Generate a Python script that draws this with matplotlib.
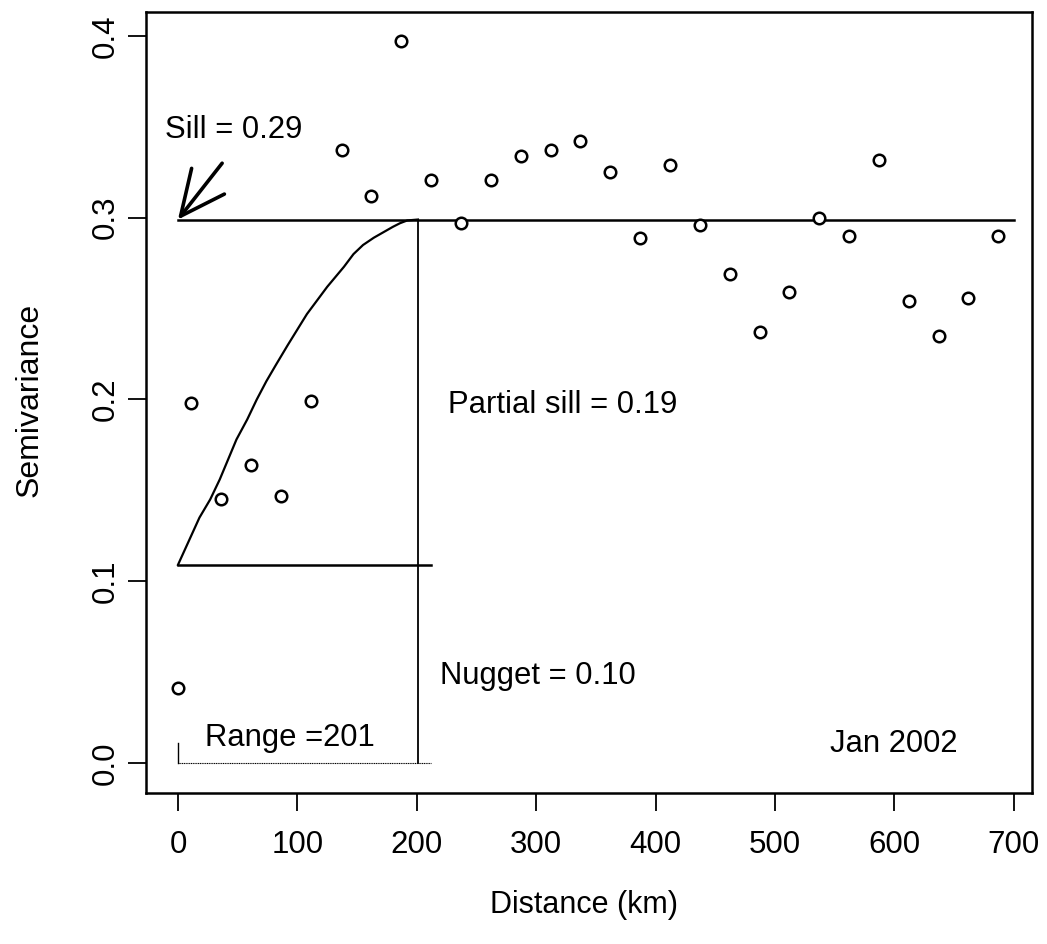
import numpy as np
import matplotlib.pyplot as plt

plt.rcParams['font.family'] = ['Liberation Sans', 'DejaVu Sans']

# empirical semivariogram points
dist = [0, 11, 36, 61, 86, 111, 137, 162, 187, 212, 237, 262, 287, 312, 337,
        362, 387, 412, 437, 462, 487, 512, 537, 562, 587, 612, 637, 662, 687]
semiv = [0.041, 0.198, 0.145, 0.164, 0.147, 0.199, 0.337, 0.312, 0.397, 0.321,
         0.297, 0.321, 0.334, 0.337, 0.342, 0.325, 0.289, 0.329, 0.296, 0.269,
         0.237, 0.259, 0.300, 0.290, 0.332, 0.254, 0.235, 0.256, 0.290]

# fitted model curve
model_x = [0, 9, 18, 27, 35, 42, 49, 58, 66, 74, 82, 92, 108, 125, 139, 147, 155, 164, 172, 180, 186, 192, 201]
model_y = [0.109, 0.122, 0.135, 0.145, 0.156, 0.167, 0.178, 0.189, 0.200, 0.210,
           0.219, 0.230, 0.247, 0.262, 0.273, 0.280, 0.285, 0.289, 0.292, 0.295,
           0.297, 0.2985, 0.299]

nugget = 0.109
sill = 0.299
rng = 201

fig = plt.figure(figsize=(10.47, 9.44), dpi=100)
ax = fig.add_axes([0.1394, 0.160, 0.8463, 0.8273])

ax.plot(dist, semiv, 'o', mfc='white', mec='black', ms=8.3, mew=1.8, zorder=5)
ax.plot(model_x, model_y, '-', color='black', lw=1.6)

# sill, nugget, range lines
ax.plot([0, 700], [sill, sill], color='black', lw=1.8)
ax.plot([0, 212], [nugget, nugget], color='black', lw=1.8)
ax.plot([rng, rng], [0, sill], color='black', lw=1.3)
ax.plot([0, 212], [0, 0], color='black', lw=0.8, ls=(0, (1, 0.6)))
ax.plot([0, 0], [0, 0.011], color='black', lw=1.0)

ax.annotate('', xy=(0, sill), xytext=(37, 0.330),
            arrowprops=dict(arrowstyle='->,head_length=3.2,head_width=1.5',
                            color='black', lw=2.6, shrinkA=0, shrinkB=0))

fs = 22.3
ax.text(-11, 0.348, 'Sill = 0.29', fontsize=fs, va='center', ha='left')
ax.text(226, 0.197, 'Partial sill = 0.19', fontsize=fs, va='center', ha='left')
ax.text(219.5, 0.048, 'Nugget = 0.10', fontsize=fs, va='center', ha='left')
ax.text(94, 0.0138, 'Range =201', fontsize=fs, va='center', ha='center')
ax.text(599, 0.0105, 'Jan 2002', fontsize=fs, va='center', ha='center')

ax.set_xlim(-26.8, 715.2)
ax.set_ylim(-0.0165, 0.4132)
ax.set_xticks(np.arange(0, 701, 100))
ax.set_yticks([0.0, 0.1, 0.2, 0.3, 0.4])
ax.set_yticklabels(['0.0', '0.1', '0.2', '0.3', '0.4'], rotation=90, va='center')
ax.tick_params(labelsize=22.5, length=13, width=1.3)
ax.tick_params(axis='x', pad=14)
ax.tick_params(axis='y', pad=5)
for s in ax.spines.values():
    s.set_linewidth(1.8)

ax.set_xlabel('Distance (km)', fontsize=22, va='center')
ax.set_ylabel('Semivariance', fontsize=23, va='center')
ax.xaxis.set_label_coords(0.4944, -0.1434)
ax.yaxis.set_label_coords(-0.1309, 0.503)

fig.savefig('out.png', dpi=100)
